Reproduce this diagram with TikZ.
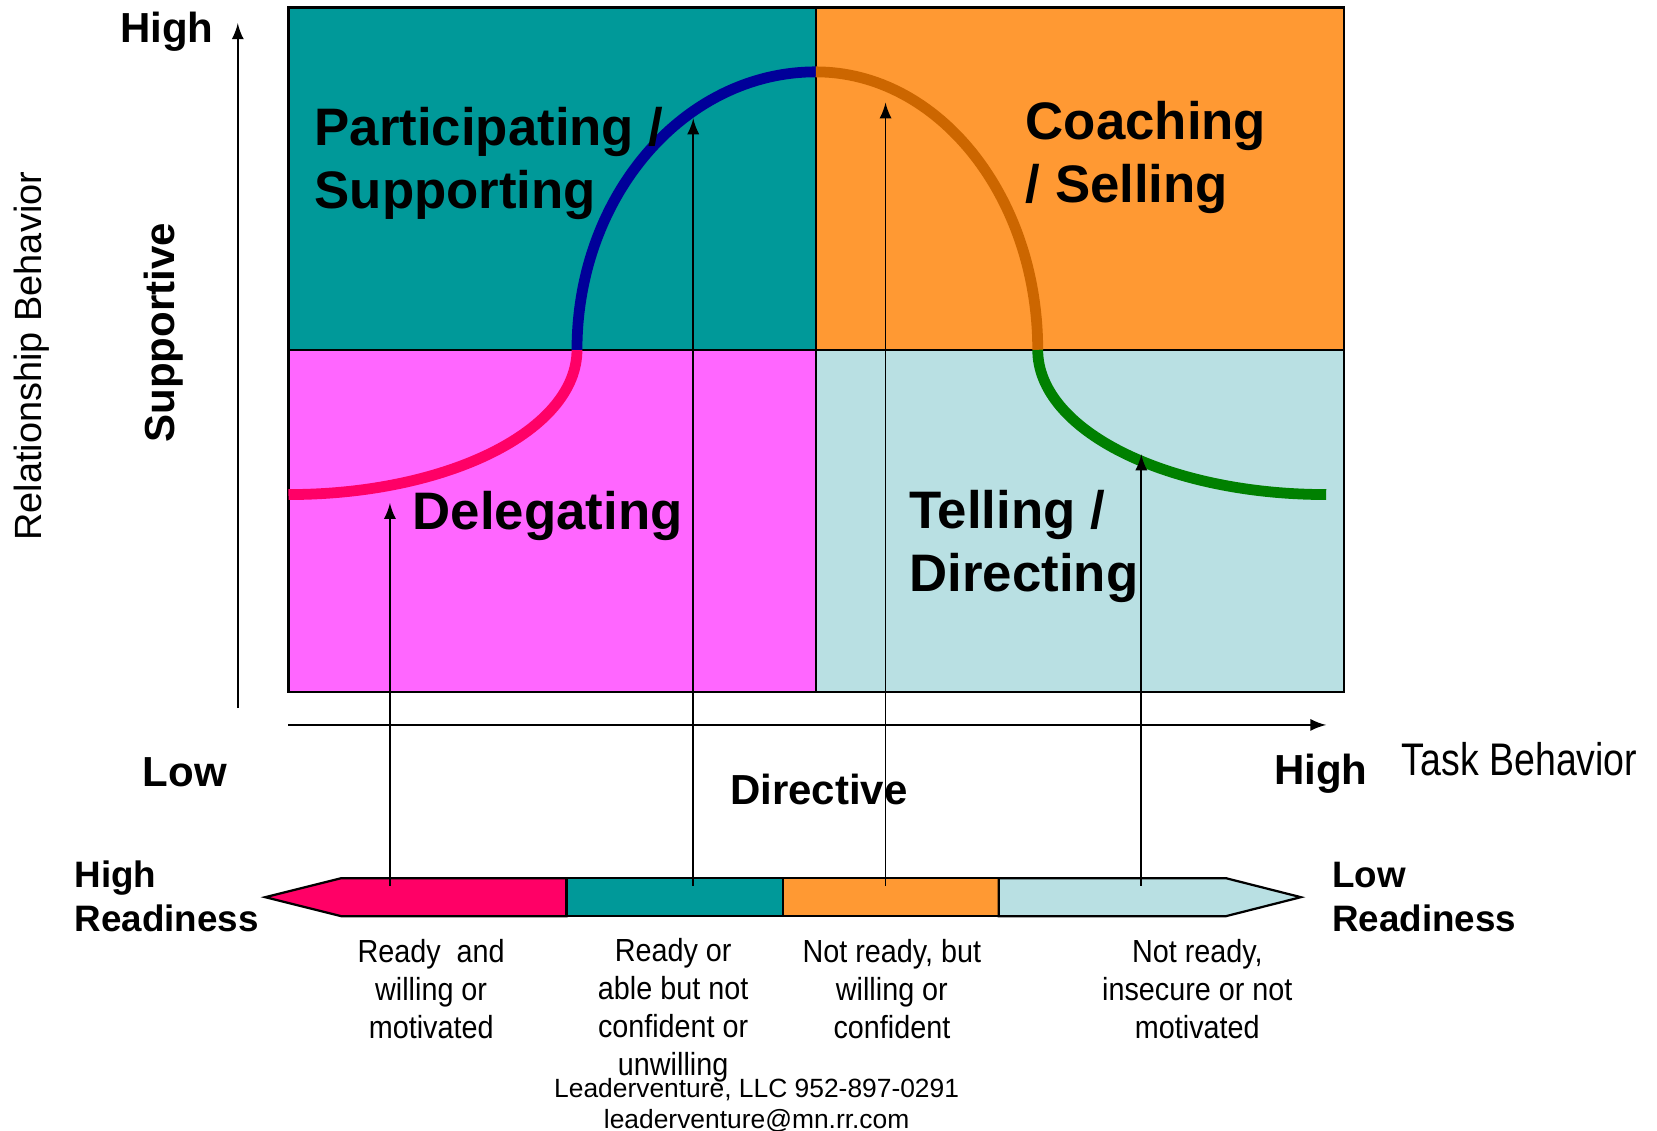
\documentclass[tikz,border=0pt]{standalone}
\usepackage{fontspec}
\setmainfont{Liberation Sans}
\newfontfamily\narrowfont{Liberation Sans}[FakeStretch=0.82]
\newfontfamily\captfont{Liberation Sans}[FakeStretch=0.9]
\usetikzlibrary{positioning}

\definecolor{quadteal}{RGB}{0,153,153}
\definecolor{quadorange}{RGB}{255,153,51}
\definecolor{quadpink}{RGB}{255,102,255}
\definecolor{quadblue}{RGB}{185,224,227}
\definecolor{curvepink}{RGB}{255,0,102}
\definecolor{curveblue}{RGB}{0,0,153}
\definecolor{curvebrown}{RGB}{204,102,0}
\definecolor{curvegreen}{RGB}{0,128,0}

\tikzset{
  quadlabel/.style={font=\fontsize{14.2}{17}\selectfont\bfseries, align=left, inner sep=0pt, anchor=west},
  axislabel/.style={font=\fontsize{11.3}{13}\selectfont\bfseries, inner sep=0pt},
  readylabel/.style={font=\fontsize{9.9}{11.7}\selectfont\bfseries, align=left, inner sep=0pt, anchor=west},
  captlabel/.style={font=\captfont\fontsize{8.6}{10.2}\selectfont, align=center, inner sep=0pt},
  curveline/.style={line width=2.9pt},
  thinarrow/.style={line width=0.5pt, ->, >=latex},
}

\begin{document}
\begin{tikzpicture}[x=0.01cm, y=-0.01cm]
\useasboundingbox (0,0) rectangle (1568,1070);

% quadrants
\fill[quadteal] (273,7) rectangle (772,331);
\fill[quadorange] (772,7) rectangle (1272,331);
\fill[quadpink] (273,331) rectangle (772,655);
\fill[quadblue] (772,331) rectangle (1272,655);
\draw[line width=0.6pt] (273,7) rectangle (1272,655);
\draw[line width=0.6pt] (772,7) -- (772,655);
\draw[line width=0.6pt] (273,331) -- (1272,331);

% curve
\coordinate (c0) at (273,468);
\coordinate (c1) at (546,331);
\coordinate (c2) at (772,68);
\coordinate (c3) at (982,331);
\coordinate (c4) at (1255,468);
\draw[curveline, curvepink] (c0) .. controls (424,468) and (546,407) .. (c1);
\draw[curveline, curveblue] (c1) .. controls (546,186) and (647,68) .. (c2);
\draw[curveline, curvebrown] (c2) .. controls (888,68) and (982,186) .. (c3);
\draw[curveline, curvegreen] (c3) .. controls (982,407) and (1104,468) .. (c4);

% axes
\coordinate (yfoot) at (225,670);
\coordinate (ytip) at (225,22);
\coordinate (xfoot) at (273,686);
\coordinate (xtip) at (1255,686);
\draw[thinarrow] (yfoot) -- (ytip);
\draw[thinarrow] (xfoot) -- (xtip);

% readiness bar
\filldraw[fill=curvepink, line width=0.6pt] (251,849) -- (323,831) -- (536,831) -- (536,867) -- (323,867) -- cycle;
\filldraw[fill=quadteal, line width=0.6pt] (536,831) rectangle (741,867);
\filldraw[fill=quadorange, line width=0.6pt] (741,831) rectangle (945,867);
\filldraw[fill=quadblue, line width=0.6pt] (945,831) -- (1160,831) -- (1231,849) -- (1160,867) -- (945,867) -- cycle;

% readiness arrows
\coordinate (r1) at (369,838);
\coordinate (r2) at (656,838);
\coordinate (r3) at (838,838);
\coordinate (r4) at (1080,838);
\coordinate (s1) at (369,476);
\coordinate (s2) at (656,112);
\coordinate (s3) at (838,97);
\coordinate (s4) at (1080,430);
\draw[thinarrow] (r1) -- (s1);
\draw[thinarrow] (r2) -- (s2);
\draw[thinarrow] (r3) -- (s3);
\draw[thinarrow] (r4) -- (s4);

% quadrant labels
\node[quadlabel] (participating) at (297,155) {Participating /\\Supporting};
\node[quadlabel] (coaching) at (970,149) {Coaching\\/ Selling};
\node[quadlabel] (delegating) at (390,488) {Delegating};
\node[quadlabel] (telling) at (860,517) {Telling /\\Directing};

% axis labels
\node[axislabel] (yhigh) at (158,30) {High};
\node[axislabel, rotate=90] (supportive) at (155,315) {Supportive};
\node[font=\fontsize{10.2}{12}\selectfont, inner sep=0pt, rotate=90] (relation) at (30,337) {Relationship Behavior};
\node[axislabel] (xlow) at (175,731) {Low};
\node[axislabel] (xhigh) at (1250,732) {High};
\node[axislabel] (directive) at (775,747) {Directive};
\node[font=\narrowfont\fontsize{12.3}{14}\selectfont, inner sep=0pt] (task) at (1438,718) {Task Behavior};

% readiness labels
\node[readylabel] (highready) at (70,848) {High\\Readiness};
\node[readylabel] (lowready) at (1260,849) {Low\\Readiness};
\node[captlabel] (capt1) at (408,936) {Ready~ and\\willing or\\motivated};
\node[captlabel] (capt2) at (637,956) {Ready or\\able but not\\confident or\\unwilling};
\node[captlabel] (capt3) at (844,936) {Not ready, but\\willing or\\confident};
\node[captlabel] (capt4) at (1133,936) {Not ready,\\insecure or not\\motivated};

% footer
\node[font=\fontsize{7.1}{8.5}\selectfont, align=center, inner sep=0pt] (footer) at (716,1046) {Leaderventure, LLC 952-897-0291\\leaderventure@mn.rr.com};

\end{tikzpicture}
\end{document}
